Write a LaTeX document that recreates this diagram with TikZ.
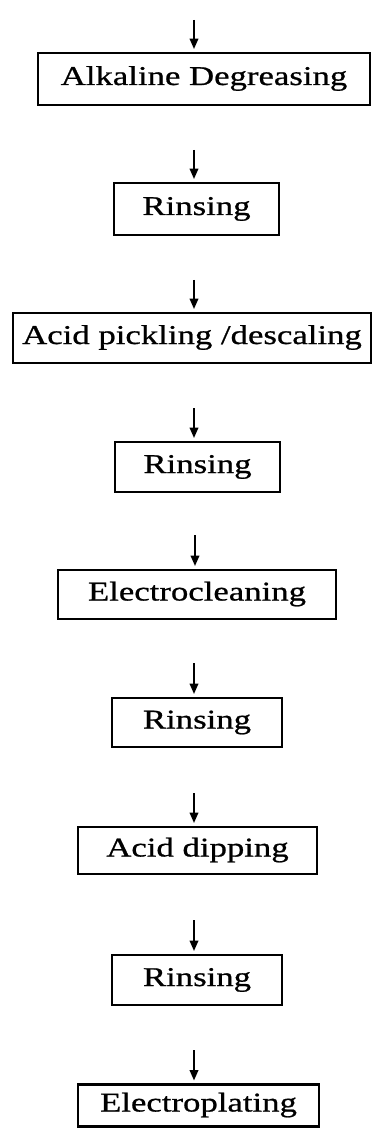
\documentclass[tikz,border=0pt]{standalone}
\usepackage{fontspec}
\newfontfamily\stepfont{Liberation Serif}[FakeStretch=1.28,FakeBold=0.8]
\usetikzlibrary{arrows.meta}
\begin{document}
\begin{tikzpicture}[
  x=0.025cm, y=-0.025cm,
  box/.style={
    draw,
    line width=1.6pt,
    inner sep=0pt,
    text height=0.45cm,
    text depth=0.15cm,
    font=\stepfont\fontsize{19.3pt}{23pt}\selectfont
  },
  arrow/.style={-{Triangle[length=2.6mm,width=2.1mm]}, line width=1.5pt, shorten >=2pt}
]
\useasboundingbox (0,0) rectangle (380,1128);

\node[box, minimum width=8.30cm, minimum height=1.30cm] (alk) at (204,79) {Alkaline Degreasing};
\node[box, minimum width=4.125cm, minimum height=1.30cm] (rin1) at (196.5,209) {Rinsing};
\node[box, minimum width=8.95cm, minimum height=1.25cm] (acid) at (192,338) {Acid pickling /descaling};
\node[box, minimum width=4.125cm, minimum height=1.25cm] (rin2) at (197.5,467) {Rinsing};
\node[box, minimum width=6.95cm, minimum height=1.225cm] (elcl) at (197,594.5) {Electrocleaning};
\node[box, minimum width=4.25cm, minimum height=1.225cm] (rin3) at (197,722.5) {Rinsing};
\node[box, minimum width=5.975cm, minimum height=1.175cm] (dip) at (197.5,850.5) {Acid dipping};
\node[box, minimum width=4.25cm, minimum height=1.25cm] (rin4) at (197,980) {Rinsing};
\node[box, minimum width=6.025cm, minimum height=1.05cm] (plate) at (198.5,1105.5) {Electroplating};

% free arrow tails above each step
\coordinate (in1) at (194,20);
\coordinate (in2) at (194,150);
\coordinate (in3) at (194,280);
\coordinate (in4) at (194,408);
\coordinate (in5) at (195,535);
\coordinate (in6) at (194,663);
\coordinate (in7) at (194,793);
\coordinate (in8) at (194,920);
\coordinate (in9) at (194,1050);

\draw[arrow] (in1) -- (in1 |- alk.north);
\draw[arrow] (in2) -- (in2 |- rin1.north);
\draw[arrow] (in3) -- (in3 |- acid.north);
\draw[arrow] (in4) -- (in4 |- rin2.north);
\draw[arrow] (in5) -- (in5 |- elcl.north);
\draw[arrow] (in6) -- (in6 |- rin3.north);
\draw[arrow] (in7) -- (in7 |- dip.north);
\draw[arrow] (in8) -- (in8 |- rin4.north);
\draw[arrow] (in9) -- (in9 |- plate.north);
\end{tikzpicture}
\end{document}
